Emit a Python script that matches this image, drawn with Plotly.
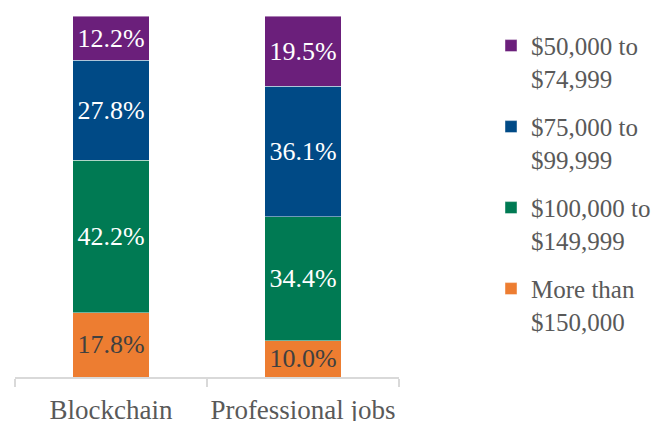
import plotly.graph_objects as go

categories = ["Blockchain", "Professional jobs"]
series_names = ["More than<br>$150,000", "$100,000 to<br>$149,999", "$75,000 to<br>$99,999", "$50,000 to<br>$74,999"]
series_values = [
    [17.8, 10.0],
    [42.2, 34.4],
    [27.8, 36.1],
    [12.2, 19.5],
]
series_colors = ["#ED7D31", "#007A53", "#004A86", "#6B1F7B"]
text_colors = ["#404040", "#FFFFFF", "#FFFFFF", "#FFFFFF"]

FONT = "Liberation Serif"

fig = go.Figure()
n = len(series_names)
for i, (name, vals) in enumerate(zip(series_names, series_values)):
    fig.add_trace(go.Bar(
        x=categories, y=vals, name=name,
        marker=dict(color=series_colors[i], line=dict(color="rgba(255,255,255,0.55)", width=0.8)),
        text=[f"{v:.1f}%" for v in vals],
        textposition="inside", insidetextanchor="middle",
        constraintext="none",
        textfont=dict(family=FONT, size=26, color=text_colors[i]),
        width=0.4, legendgroup=str(i), legendrank=n - i,
        hoverinfo="skip",
    ))

fig.update_layout(
    width=659, height=421,
    margin=dict(l=7, r=268, t=8, b=52, autoexpand=False),
    barmode="stack",
    paper_bgcolor="white", plot_bgcolor="white",
    font=dict(family=FONT, color="#595959"),
    showlegend=True,
    legend=dict(
        x=1.2396, y=0.981, xanchor="left", yanchor="top",
        traceorder="grouped", tracegroupgap=13,
        valign="top", maxheight=1.0,
        font=dict(family=FONT, size=25, color="#595959"),
        bgcolor="rgba(0,0,0,0)",
    ),
    xaxis=dict(
        showline=True, linecolor="#D9D9D9", linewidth=1.5,
        ticks="outside", tickson="boundaries", ticklen=8, tickcolor="#D9D9D9", tickwidth=1.5,
        tickfont=dict(family=FONT, size=27, color="#595959"),
        tickangle=0, automargin=False, ticklabelstandoff=8,
        showgrid=False,
    ),
    yaxis=dict(range=[0, 100], visible=False, showgrid=False, automargin=False),
)

fig.write_html("out.html")
